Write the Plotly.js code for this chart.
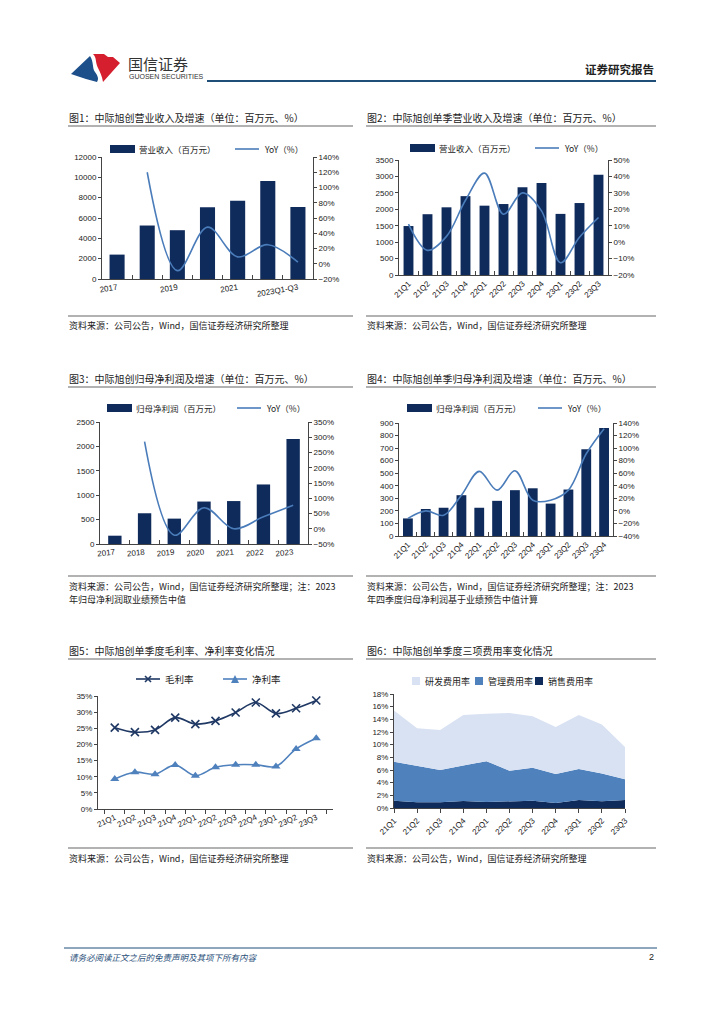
<!DOCTYPE html>
<html><head><meta charset="utf-8">
<script src="https://cdn.plot.ly/plotly-3.0.1.min.js"></script>
<style>html,body{margin:0;padding:0;background:#fff}#c{width:724px;height:1024px}</style>
</head><body><div id="c"></div>
<script>
// ---------- DATA ----------
const years1 = ['2017','2018','2019','2020','2021','2022','2023Q1-Q3'];
const revenue1 = [2400, 5260, 4800, 7050, 7700, 9640, 7090];
const revYoY1 = [null, 120, -9, 48, 9, 25, 2];

const quarters11 = ['21Q1','21Q2','21Q3','21Q4','22Q1','22Q2','22Q3','22Q4','23Q1','23Q2','23Q3'];
const revenue2 = [1490, 1850, 2060, 2400, 2110, 2160, 2670, 2800, 1860, 2190, 3050];
const revYoY2 = [11, -5, 3.5, 25.5, 42, 17, 30, 19, -12.5, 3, 15];

const years3 = ['2017','2018','2019','2020','2021','2022','2023'];
const profit3 = [170, 630, 520, 870, 880, 1220, 2150];
const profitYoY3 = [null, 286, -21, 69, 0, 39, 77];

const quarters12 = ['21Q1','21Q2','21Q3','21Q4','22Q1','22Q2','22Q3','22Q4','23Q1','23Q2','23Q3','23Q4'];
const profit4 = [140, 215, 225, 325, 225, 280, 365, 380, 258, 370, 690, 860];
const profitYoY4 = [-12, 0, -7, 25, 63, 33, 64, 17, 17, 33, 91, 131];

const grossMargin = [25.2, 23.8, 24.5, 28.3, 26.3, 27.3, 29.9, 33.0, 29.6, 31.2, 33.6];
const netMargin = [9.3, 11.4, 10.8, 13.6, 10.3, 12.9, 13.7, 13.7, 13.2, 18.6, 21.9];

const sellingRate = [1.15, 0.9, 0.9, 1.1, 0.95, 1.05, 1.15, 0.8, 1.25, 1.05, 1.25];
const adminRate = [6.15, 5.7, 5.1, 5.6, 6.45, 4.85, 5.2, 4.55, 4.9, 4.4, 3.3];
const rdRate = [8.1, 6.0, 6.3, 8.0, 7.5, 9.1, 8.15, 7.45, 8.55, 7.75, 5.1];

// ---------- STYLE ----------
const W = 724, H = 1024;
const X = p => p / W, Y = p => 1 - p / H;
const NAVY = '#0f2b5b', LBLUE = '#4a7cba', MID = '#4f81bd', LIGHT = '#d9e2f3';
const CJK = '"Noto Sans CJK SC", "Noto Sans", sans-serif';
const LAT = '"Liberation Sans", Arial, sans-serif';
const tickFont = {family: LAT, size: 8, color: '#222'};

function yAx(dom, range, dtick, extra) {
  return Object.assign({domain: [Y(dom[1]), Y(dom[0])], range: range, dtick: dtick, showgrid: false, zeroline: false,
    showline: true, linecolor: '#444', linewidth: 1, ticks: 'outside', ticklen: 3, tickcolor: '#444', tickfont: tickFont,
    tickformat: 'd', fixedrange: true}, extra || {});
}
function xAx(dom, anchor, extra) {
  return Object.assign({domain: [X(dom[0]), X(dom[1])], anchor: anchor, type: 'category', showgrid: false, zeroline: false,
    showline: true, linecolor: '#444', linewidth: 1, tickcolor: '#444', tickfont: tickFont, fixedrange: true}, extra || {});
}

const traces = [];
// Chart 1
traces.push({type: 'bar', x: years1, y: revenue1, marker: {color: NAVY}, width: 0.5, xaxis: 'x', yaxis: 'y'});
traces.push({type: 'scatter', mode: 'lines', x: years1, y: revYoY1, line: {color: LBLUE, width: 1.6, shape: 'spline'}, xaxis: 'x', yaxis: 'y2', connectgaps: false});
// Chart 2
traces.push({type: 'bar', x: quarters11, y: revenue2, marker: {color: NAVY}, width: 0.52, xaxis: 'x2', yaxis: 'y3'});
traces.push({type: 'scatter', mode: 'lines', x: quarters11, y: revYoY2, line: {color: LBLUE, width: 1.6, shape: 'spline'}, xaxis: 'x2', yaxis: 'y4'});
// Chart 3
traces.push({type: 'bar', x: years3, y: profit3, marker: {color: NAVY}, width: 0.45, xaxis: 'x3', yaxis: 'y5'});
traces.push({type: 'scatter', mode: 'lines', x: years3, y: profitYoY3, line: {color: LBLUE, width: 1.6, shape: 'spline'}, xaxis: 'x3', yaxis: 'y6'});
// Chart 4
traces.push({type: 'bar', x: quarters12, y: profit4, marker: {color: NAVY}, width: 0.55, xaxis: 'x4', yaxis: 'y7'});
traces.push({type: 'scatter', mode: 'lines', x: quarters12, y: profitYoY4, line: {color: LBLUE, width: 1.6, shape: 'spline'}, xaxis: 'x4', yaxis: 'y8'});
// Chart 5
traces.push({type: 'scatter', mode: 'lines+markers', x: quarters11, y: grossMargin, line: {color: '#1f3864', width: 1.6, shape: 'spline'},
  marker: {symbol: 'x-thin-open', size: 8, color: '#1f3864', line: {width: 1.6, color: '#1f3864'}}, xaxis: 'x5', yaxis: 'y9'});
traces.push({type: 'scatter', mode: 'lines+markers', x: quarters11, y: netMargin, line: {color: MID, width: 1.6, shape: 'spline'},
  marker: {symbol: 'triangle-up', size: 8, color: MID}, xaxis: 'x5', yaxis: 'y9'});
// Chart 6
traces.push({type: 'scatter', mode: 'lines', x: quarters11, y: sellingRate, stackgroup: 'a', fillcolor: NAVY, line: {width: 0, color: NAVY}, xaxis: 'x6', yaxis: 'y10'});
traces.push({type: 'scatter', mode: 'lines', x: quarters11, y: adminRate, stackgroup: 'a', fillcolor: MID, line: {width: 0, color: MID}, xaxis: 'x6', yaxis: 'y10'});
traces.push({type: 'scatter', mode: 'lines', x: quarters11, y: rdRate, stackgroup: 'a', fillcolor: LIGHT, line: {width: 0, color: LIGHT}, xaxis: 'x6', yaxis: 'y10'});

const tt1 = years1.map((c, i) => i % 2 === 0 ? c : '');

const layout = {
  width: W, height: H, margin: {l: 0, r: 0, t: 0, b: 0}, showlegend: false,
  paper_bgcolor: '#fff', plot_bgcolor: 'rgba(0,0,0,0)',
  xaxis: xAx([102, 313], 'y', {tickson: 'boundaries', ticks: 'inside', ticklen: 4, tickmode: 'array', tickvals: years1, ticktext: tt1, tickangle: -10}),
  yaxis: yAx([157, 279], [0, 12000], 2000, {anchor: 'x'}),
  yaxis2: yAx([157, 279], [-20, 140], 20, {anchor: 'x', overlaying: 'y', side: 'right', ticksuffix: '%'}),

  xaxis2: xAx([399, 608], 'y3', {tickson: 'boundaries', ticks: 'inside', ticklen: 4, tickangle: -45}),
  yaxis3: yAx([160, 275], [0, 3500], 500, {anchor: 'x2'}),
  yaxis4: yAx([160, 275], [-20, 50], 10, {anchor: 'x2', overlaying: 'y3', side: 'right', ticksuffix: '%'}),

  xaxis3: xAx([100, 308], 'y5', {tickson: 'boundaries', ticks: 'inside', ticklen: 4, tickangle: -6}),
  yaxis5: yAx([422, 544], [0, 2500], 500, {anchor: 'x3'}),
  yaxis6: yAx([422, 544], [-50, 350], 50, {anchor: 'x3', overlaying: 'y5', side: 'right', ticksuffix: '%'}),

  xaxis4: xAx([399, 613], 'y7', {tickson: 'boundaries', ticks: 'inside', ticklen: 4, tickangle: -45}),
  yaxis7: yAx([423, 536], [0, 900], 100, {anchor: 'x4'}),
  yaxis8: yAx([423, 536], [-40, 140], 20, {anchor: 'x4', overlaying: 'y7', side: 'right', ticksuffix: '%'}),

  xaxis5: xAx([98, 333], 'y9', {tickson: 'boundaries', ticks: 'outside', ticklen: 4, tickangle: -25}),
  yaxis9: yAx([696, 809], [0, 35], 5, {anchor: 'x5', ticksuffix: '%'}),

  xaxis6: xAx([394, 625], 'y10', {range: [0, 10], ticks: 'outside', ticklen: 4, tickangle: -45}),
  yaxis10: yAx([694, 808], [0, 18], 2, {anchor: 'x6', ticksuffix: '%'}),
  shapes: [], annotations: []
};

const S = layout.shapes, A = layout.annotations;
function hline(x0, x1, y, color, w) { S.push({type: 'line', xref: 'paper', yref: 'paper', x0: X(x0), x1: X(x1), y0: Y(y), y1: Y(y), line: {color: color, width: w}}); }
function rect(x0, y0, x1, y1, color) { S.push({type: 'rect', xref: 'paper', yref: 'paper', x0: X(x0), x1: X(x1), y0: Y(y1), y1: Y(y0), fillcolor: color, line: {width: 0}}); }
function txt(x, y, t, size, opts) {
  A.push(Object.assign({xref: 'paper', yref: 'paper', x: X(x), y: Y(y), text: t, showarrow: false, xanchor: 'left', yanchor: 'middle',
    font: {family: CJK, size: size, color: '#222'}}, opts || {}));
}
function path(pts, color) {
  let d = '';
  pts.forEach((p, i) => { d += (i === 0 ? 'M ' : (p.length === 6 ? ' C ' : ' L ')) + (p.length === 6 ?
    [X(p[0]), Y(p[1]), X(p[2]), Y(p[3]), X(p[4]), Y(p[5])].join(',') : X(p[0]) + ',' + Y(p[1])); });
  S.push({type: 'path', xref: 'paper', yref: 'paper', path: d + ' Z', fillcolor: color, line: {width: 0}});
}

// Header
path([[71, 74], [90, 56], [94, 62, 92, 68, 95, 72], [98, 76, 99, 79, 97, 82], [86, 79]], '#1d4f8b');
path([[93, 54], [104, 54], [108, 57], [113, 57], [120, 63], [103, 82], [102, 76, 100, 72, 98, 68], [95, 62, 97, 58, 93, 54]], '#d51f2e');
txt(126, 63, '国信证券', 15, {font: {family: CJK, size: 15, color: '#333'}});
txt(127, 76, 'GUOSEN SECURITIES', 7, {font: {family: LAT, size: 7, color: '#333'}});
txt(656, 69, '<b>证券研究报告</b>', 11.5, {xanchor: 'right'});
hline(207, 656, 81, '#1f4e79', 2);

// Titles + underlines
const titles = [
  [68, 117, '图1：中际旭创营业收入及增速（单位：百万元、%）', 126, 353],
  [366, 117, '图2：中际旭创单季营业收入及增速（单位：百万元、%）', 126, 656],
  [68, 378, '图3：中际旭创归母净利润及增速（单位：百万元、%）', 387, 353],
  [366, 378, '图4：中际旭创单季归母净利润及增速（单位：百万元、%）', 387, 656],
  [68, 650, '图5：中际旭创单季度毛利率、净利率变化情况', 659, 353],
  [366, 650, '图6：中际旭创单季度三项费用率变化情况', 659, 656]
];
titles.forEach(t => { txt(t[0] - 1, t[1], t[2], 10); hline(t[0], t[4], t[3], '#666', 1.2); });

// Sources
const src = '资料来源：公司公告，Wind，国信证券经济研究所整理';
hline(68, 353, 316, '#666', 1.2); hline(366, 656, 316, '#666', 1.2);
txt(67, 325, src, 9); txt(365, 325, src, 9);
hline(68, 353, 576, '#666', 1.2); hline(366, 656, 576, '#666', 1.2);
txt(67, 586, src + '；注：2023', 9); txt(67, 599, '年归母净利润取业绩预告中值', 9);
txt(365, 586, src + '；注：2023', 9); txt(365, 599, '年四季度归母净利润基于业绩预告中值计算', 9);
hline(68, 353, 848, '#666', 1.2); hline(366, 656, 848, '#666', 1.2);
txt(67, 858, src, 9); txt(365, 858, src, 9);

// Legends for bar+line charts
function barLineLegend(sx, y, barLabel, lx) {
  rect(sx, y - 4, sx + 25, y + 4, NAVY);
  txt(sx + 27, y, barLabel, 8.5);
  S.push({type: 'line', xref: 'paper', yref: 'paper', x0: X(lx), x1: X(lx + 24), y0: Y(y), y1: Y(y), line: {color: LBLUE, width: 1.6}});
  txt(lx + 27, y, 'YoY（%）', 8.5);
}
barLineLegend(110, 149, '营业收入（百万元）', 235);
barLineLegend(410, 148, '营业收入（百万元）', 535);
barLineLegend(107, 408, '归母净利润（百万元）', 237);
barLineLegend(407, 408, '归母净利润（百万元）', 538);

// Chart 5 legend
hline(136, 160, 679, '#1f3864', 1.6);
S.push({type: 'line', xref: 'paper', yref: 'paper', x0: X(145), x1: X(151), y0: Y(676), y1: Y(682), line: {color: '#1f3864', width: 1.6}});
S.push({type: 'line', xref: 'paper', yref: 'paper', x0: X(145), x1: X(151), y0: Y(682), y1: Y(676), line: {color: '#1f3864', width: 1.6}});
txt(163, 679, '毛利率', 9.5);
hline(223, 247, 679, MID, 1.6);
path([[231, 683], [235, 675], [239, 683]], MID);
txt(250, 679, '净利率', 9.5);

// Chart 6 legend
rect(412, 677, 420, 685, LIGHT); txt(423, 681, '研发费用率', 9);
rect(475, 677, 483, 685, MID); txt(486, 681, '管理费用率', 9);
rect(535, 677, 543, 685, NAVY); txt(546, 681, '销售费用率', 9);

// Footer
hline(64, 657, 948, '#1f4e79', 1);
txt(67, 957, '<i>请务必阅读正文之后的免责声明及其项下所有内容</i>', 8.5, {font: {family: CJK, size: 8.5, color: '#1f4e79'}});
txt(656, 957, '2', 9, {xanchor: 'right', font: {family: LAT, size: 9, color: '#222'}});

Plotly.newPlot('c', traces, layout, {staticPlot: true});
</script></body></html>
